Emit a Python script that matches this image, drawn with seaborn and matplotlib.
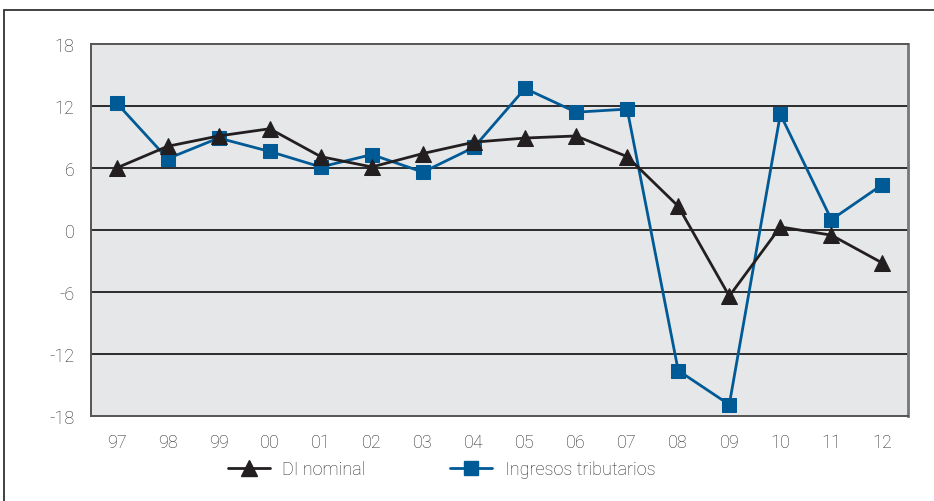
import matplotlib
matplotlib.use("Agg")
import matplotlib.pyplot as plt
from matplotlib.patches import Rectangle
from matplotlib.lines import Line2D
import seaborn as sns
import pandas as pd
import numpy as np

years = ["97", "98", "99", "00", "01", "02", "03", "04",
         "05", "06", "07", "08", "09", "10", "11", "12"]
di_nominal = [6.0, 8.1, 9.1, 9.8, 7.1, 6.1, 7.4, 8.5,
              8.9, 9.1, 7.1, 2.3, -6.4, 0.3, -0.5, -3.2]
ingresos_tributarios = [12.3, 6.9, 8.9, 7.6, 6.1, 7.3, 5.6, 8.0,
                        13.7, 11.4, 11.7, -13.6, -16.9, 11.2, 1.0, 4.4]
y_ticks = [-18, -12, -6, 0, 6, 12, 18]

sns.set_theme(style="white")
plt.rcParams["font.family"] = ["Roboto", "Liberation Sans", "DejaVu Sans"]
plt.rcParams["font.weight"] = "light"

BLACK = "#231f20"
BLUE = "#005a96"
GRID = "#2b2b2b"
BG = "#e6e7e8"
TEXT = "#2a2a2a"

fig = plt.figure(figsize=(9.34, 5.02), dpi=100)
ax = fig.add_axes([91 / 934, 1 - 417 / 502, (908 - 91) / 934, (417 - 45) / 502])
ax.set_facecolor(BG)

df = pd.DataFrame({
    "pos": np.arange(len(years)),
    "DI nominal": di_nominal,
    "Ingresos tributarios": ingresos_tributarios,
})

sns.lineplot(data=df, x="pos", y="DI nominal", ax=ax, color=BLACK, lw=2,
             marker="^", markersize=11, markeredgecolor=BLACK, zorder=4)
sns.lineplot(data=df, x="pos", y="Ingresos tributarios", ax=ax, color=BLUE, lw=2,
             marker="s", markersize=9.5, markeredgecolor=BLUE, zorder=3)

ax.set_xlim(-0.5, len(years) - 0.5)
ax.set_ylim(-18, 18)
ax.set_yticks(y_ticks)
ax.set_yticklabels([str(v) for v in y_ticks], fontsize=13, color=TEXT)
for v in y_ticks[1:-1]:
    ax.axhline(v, color=GRID, lw=1.4, zorder=1)

# category labels sit between boundary tick marks
ax.set_xticks(np.arange(len(years)))
ax.set_xticklabels(years, fontsize=13, color=TEXT)
ax.set_xticks(np.arange(-0.5, len(years)), minor=True)
ax.tick_params(axis="x", which="major", length=0, pad=12)
ax.tick_params(axis="x", which="minor", length=6, width=1.2, color="#444444", direction="out")
ax.tick_params(axis="y", length=7, width=1.2, color="#444444", direction="out", pad=5)
ax.set_xlabel("")
ax.set_ylabel("")

for side in ["left", "bottom", "top", "right"]:
    ax.spines[side].set_visible(True)
    ax.spines[side].set_color("#555555")
    ax.spines[side].set_linewidth(1.4)
ax.spines["right"].set_color("#777777")
ax.spines["right"].set_linewidth(2)

handles = [
    Line2D([], [], color=BLACK, lw=2, marker="^", markersize=12),
    Line2D([], [], color=BLUE, lw=2, marker="s", markersize=10),
]
fig.legend(handles, ["DI nominal", "Ingresos tributarios"], loc="center left",
           bbox_to_anchor=(228 / 934, 1 - 470 / 502), ncol=2, frameon=False,
           fontsize=13, handlelength=2.3, columnspacing=4.7, handletextpad=0.7,
           borderpad=0, borderaxespad=0, labelcolor=TEXT)

fig.patches.append(Rectangle((4 / 934, -0.05), 1.2, 1 - 11 / 502 + 0.05,
                             transform=fig.transFigure, fill=False,
                             edgecolor="#333333", lw=1.3))

fig.savefig("out.png", dpi=100)
